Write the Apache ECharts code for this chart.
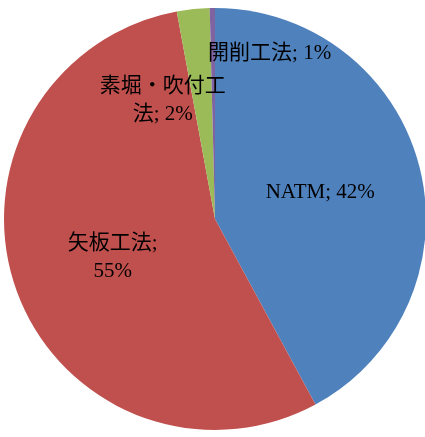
<!DOCTYPE html>
<html>
<head>
<meta charset="utf-8">
<script src="https://cdn.jsdelivr.net/npm/echarts@6/dist/echarts.min.js"></script>
<style>
  html, body { margin: 0; padding: 0; background: #fff; }
  #chart { width: 425px; height: 437px; }
</style>
</head>
<body>
<div id="chart"></div>
<script>
// slice values (percent of circle)
const names = ['NATM', '矢板工法', '素堀・吹付工法', '開削工法']
const values = [42.1, 55.0, 2.5, 0.4]
// label text as printed on the chart
const labelTexts = ['NATM; 42%', '矢板工法;\n55%', '素堀・吹付工\n法; 2%', '開削工法; 1%']
const colors = ['#4F81BD', '#C0504D', '#9BBB59', '#8064A2']
// nudges for the small slices whose labels sit off the slice middle
const labelShift = [[0, 0], [0, 2], [-41, -11], [56, -57]]

const chart = echarts.init(document.getElementById('chart'))
chart.setOption({
  animation: false,
  series: [
    {
      type: 'pie',
      center: [215, 219],
      radius: 211,
      startAngle: 90,
      clockwise: true,
      avoidLabelOverlap: false,
      itemStyle: { borderWidth: 0 },
      emphasis: { disabled: true },
      label: {
        show: true,
        position: 'inside',
        color: '#000',
        fontSize: 21,
        lineHeight: 28,
        fontFamily: '"Liberation Serif", "Noto Sans CJK JP", serif',
        formatter: p => labelTexts[p.dataIndex]
      },
      labelLine: { show: false },
      labelLayout: params => ({
        dx: labelShift[params.dataIndex][0],
        dy: labelShift[params.dataIndex][1]
      }),
      data: names.map((n, i) => ({
        name: n,
        value: values[i],
        itemStyle: { color: colors[i] }
      }))
    }
  ]
})
</script>
</body>
</html>
